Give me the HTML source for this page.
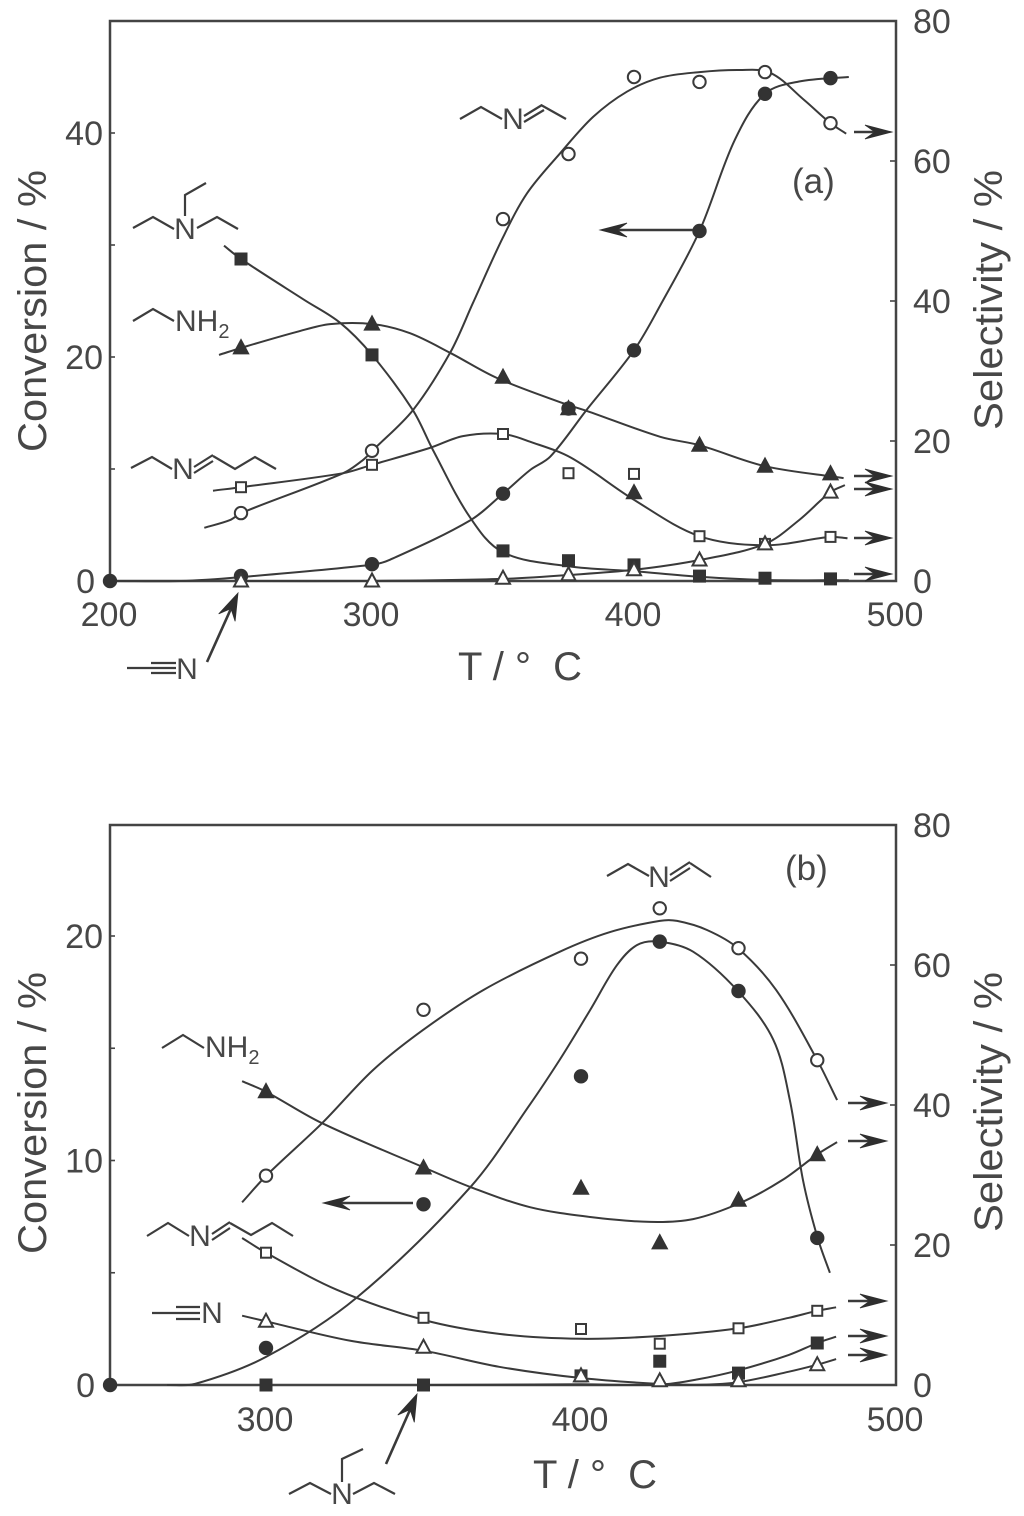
<!DOCTYPE html>
<html lang="en">
<head>
<meta charset="utf-8">
<title>Conversion and selectivity vs temperature</title>
<style>
html,body{margin:0;padding:0;background:#fff}
svg{display:block}
text{font-family:"Liberation Sans",sans-serif;fill:#474747}
.tick{font-size:34px}
.title{font-size:40px}
.chem{font-size:30px}
.chem-line{fill:none;stroke:#3d3d3d;stroke-width:2.2}
.frame{fill:none;stroke:#444;stroke-width:2.5}
</style>
</head>
<body>
<svg id="chart" xmlns="http://www.w3.org/2000/svg" width="1024" height="1516" viewBox="0 0 1024 1516">
  <rect x="0" y="0" width="1024" height="1516" fill="#fff"/>
  <rect class="frame" x="110" y="21" width="786" height="560"/>
  <rect class="frame" x="110" y="825" width="786" height="560"/>
  <g id="layer-a"></g>
  <g id="layer-b"></g>

  <text class="title" transform="translate(46,452) rotate(-90)" textLength="282" lengthAdjust="spacingAndGlyphs">Conversion / %</text>
  <text class="title" transform="translate(1002,430) rotate(-90)" textLength="260" lengthAdjust="spacingAndGlyphs">Selectivity / %</text>
  <text class="title" x="458" y="680" xml:space="preserve" textLength="124" lengthAdjust="spacing">T / °  C</text>
  <text class="title" transform="translate(46,1254) rotate(-90)" textLength="282" lengthAdjust="spacingAndGlyphs">Conversion / %</text>
  <text class="title" transform="translate(1002,1232) rotate(-90)" textLength="260" lengthAdjust="spacingAndGlyphs">Selectivity / %</text>
  <text class="title" x="533" y="1488" xml:space="preserve" textLength="124" lengthAdjust="spacing">T / °  C</text>
  <text x="792" y="193" font-size="35">(a)</text>
  <text x="785" y="880" font-size="35">(b)</text>

  <!-- Panel (a) chemical structure labels -->
  <g>
    <polyline class="chem-line" points="133,228 153,217 174,229"/>
    <polyline class="chem-line" points="197,228 217,217 238,229"/>
    <polyline class="chem-line" points="185,216 185,195 206,183"/>
    <text class="chem" x="185" y="239" text-anchor="middle">N</text>
  </g>
  <g>
    <polyline class="chem-line" points="133,321 153,309 174,321"/>
    <text class="chem" x="175" y="331">NH<tspan font-size="20" dy="7">2</tspan></text>
  </g>
  <g>
    <polyline class="chem-line" points="460,119 481,107 502,119"/>
    <line class="chem-line" x1="524" y1="122" x2="544" y2="110"/>
    <line class="chem-line" x1="524" y1="116" x2="542" y2="105"/>
    <polyline class="chem-line" points="541,105 566,119"/>
    <text class="chem" x="513" y="129" text-anchor="middle">N</text>
  </g>
  <g>
    <polyline class="chem-line" points="131,468 152,457 172,469"/>
    <line class="chem-line" x1="194" y1="473" x2="213" y2="461"/>
    <line class="chem-line" x1="194" y1="467" x2="213" y2="455"/>
    <polyline class="chem-line" points="213,456 235,469 255,457 276,469"/>
    <text class="chem" x="183" y="479" text-anchor="middle">N</text>
  </g>
  <g>
    <line class="chem-line" x1="127" y1="668" x2="176" y2="668"/>
    <line class="chem-line" x1="151" y1="663" x2="176" y2="663"/>
    <line class="chem-line" x1="151" y1="673" x2="176" y2="673"/>
    <text class="chem" x="187" y="679" text-anchor="middle">N</text>
  </g>

  <!-- Panel (b) chemical structure labels -->
  <g>
    <polyline class="chem-line" points="607,876 628,864 649,876"/>
    <line class="chem-line" x1="670" y1="881" x2="690" y2="868"/>
    <line class="chem-line" x1="670" y1="875" x2="690" y2="862"/>
    <polyline class="chem-line" points="690,863 711,877"/>
    <text class="chem" x="659" y="887" text-anchor="middle">N</text>
  </g>
  <g>
    <polyline class="chem-line" points="162,1048 183,1035 204,1048"/>
    <text class="chem" x="205" y="1057">NH<tspan font-size="20" dy="7">2</tspan></text>
  </g>
  <g>
    <polyline class="chem-line" points="147,1236 168,1223 189,1236"/>
    <line class="chem-line" x1="212" y1="1240" x2="230" y2="1228"/>
    <line class="chem-line" x1="212" y1="1234" x2="230" y2="1222"/>
    <polyline class="chem-line" points="230,1223 251,1235 272,1223 293,1236"/>
    <text class="chem" x="200" y="1246" text-anchor="middle">N</text>
  </g>
  <g>
    <line class="chem-line" x1="152" y1="1313" x2="200" y2="1313"/>
    <line class="chem-line" x1="176" y1="1307" x2="200" y2="1307"/>
    <line class="chem-line" x1="176" y1="1319" x2="200" y2="1319"/>
    <text class="chem" x="212" y="1323" text-anchor="middle">N</text>
  </g>
  <g>
    <polyline class="chem-line" points="289,1494 310,1483 331,1494"/>
    <polyline class="chem-line" points="353,1494 374,1483 395,1494"/>
    <polyline class="chem-line" points="342,1482 342,1459 363,1449"/>
    <text class="chem" x="342" y="1504" text-anchor="middle">N</text>
  </g>
  <g id="arrows"></g>
</svg>

<script>
// ---------- Panel (a) axis labels ----------
const aXTicks = [200, 300, 400, 500];
const aLeftTicks = [0, 20, 40];
const aLeftMinor = [10, 30];
const aRightTicks = [0, 20, 40, 60, 80];

// ---------- Panel (a) measured points ----------
const aTemps = [250, 300, 350, 375, 400, 425, 450, 475];
const aConvTemps = [200, 250, 300, 350, 375, 400, 425, 450, 475];
const aConversion = [0, 0.45, 1.5, 7.8, 15.4, 20.6, 31.25, 43.5, 44.9];
const aSelImine = [9.7, 18.6, 51.7, 61, 72, 71.3, 72.7, 65.4];
const aSelAmine3 = [46, 32.3, 4.3, 2.9, 2.3, 0.7, 0.4, 0.3];
const aSelAmine1 = [33.3, 36.7, 29.1, 24.6, 12.6, 19.4, 16.4, 15.3];
const aSelButyl = [13.4, 16.6, 21, 15.4, 15.3, 6.4, 5.3, 6.3];
const aSelNitrile = [0, 0, 0.4, 0.9, 1.6, 3, 5.3, 12.7];

// ---------- Panel (a) fitted curves ----------
const aCurveConvT = [200, 227, 250, 300, 306.9, 337.4, 350, 360.3, 368, 382, 400, 410, 425, 438.5, 450, 463, 482];
const aCurveConvV = [0, 0, 0.35, 1.45, 1.9, 5.4, 7.8, 9.9, 11.1, 15.3, 20.6, 24.6, 31.25, 39.4, 43.5, 44.6, 45];
const aCurveImineT = [236, 245.8, 250, 289, 296.6, 300.4, 315.6, 329.8, 338.5, 350, 359.2, 371.8, 384.4, 397.3, 409.9, 425, 440, 452, 465, 475, 481];
const aCurveImineV = [7.6, 8.7, 9.7, 15.4, 17.3, 18.7, 24.4, 32.6, 39.7, 49.1, 55.4, 61.1, 66.3, 69.9, 71.9, 72.7, 73, 72.6, 68.7, 65.4, 63.9];
const aCurveAmine3T = [243.5, 250, 274.4, 287.8, 300, 315.6, 323.3, 337.4, 350, 375, 400, 425, 450, 482];
const aCurveAmine3V = [47.9, 46, 40.1, 36.9, 32.3, 24.4, 18.7, 9.1, 4.1, 2.1, 1.4, 0.6, 0.15, 0.1];
const aCurveAmine1T = [241.6, 250, 271.4, 284, 300.4, 314.5, 329.8, 347.7, 372.9, 382, 410, 425, 450, 480];
const aCurveAmine1V = [32.3, 33.3, 35.6, 36.7, 36.7, 35.4, 32.6, 29, 25.4, 24.3, 20.6, 19.4, 16.4, 14.7];
const aCurveButylT = [239.3, 250, 289, 300, 322, 334.7, 350, 360.3, 376, 400, 425, 450, 475, 481.5];
const aCurveButylV = [12.9, 13.4, 15.4, 16.6, 19, 20.7, 21, 19.9, 17.6, 11.6, 6.4, 5.1, 6.3, 6.1];
const aCurveNitrileT = [250, 300, 350, 375, 400, 425, 450, 463, 475, 480.5];
const aCurveNitrileV = [0, 0, 0.3, 0.85, 1.6, 3, 5.3, 8.7, 12.7, 13.7];

// ---------- Panel (b) axis labels ----------
const bXTicks = [300, 400, 500];
const bLeftTicks = [0, 10, 20];
const bLeftMinor = [5, 15];
const bRightTicks = [0, 20, 40, 60, 80];

// ---------- Panel (b) measured points ----------
const bTemps = [300, 350, 400, 425, 450, 475];
const bConvTemps = [250.5, 300, 350, 400, 425, 450, 475];
const bConversion = [0, 1.65, 8.05, 13.75, 19.75, 17.55, 6.55];
const bSelImine = [29.9, 53.6, 60.9, 68.1, 62.4, 46.4];
const bSelAmine3 = [0, 0, 1.3, 3.4, 1.7, 6];
const bSelAmine1 = [41.9, 31, 28.1, 20.3, 26.4, 32.9];
const bSelButyl = [18.9, 9.6, 8, 5.9, 8.1, 10.6];
const bSelNitrile = [9.1, 5.4, 1.3, 0.6, 0.6, 2.9];

// ---------- Panel (b) fitted curves ----------
const bCurveConvT = [268.6, 277.5, 300, 328.9, 364.8, 383.8, 393.3, 402.9, 411.4, 417.8, 424.8, 435.6, 449.8, 461, 466.3, 470.5, 475, 479];
const bCurveConvV = [0, 0.05, 1.25, 3.9, 8.8, 12.5, 14.5, 16.7, 18.7, 19.6, 19.75, 19.3, 17.55, 15.4, 12.7, 9.1, 6.6, 5];
const bCurveImineT = [292.4, 300.3, 317.8, 334, 349.8, 368.9, 393.3, 409.2, 425, 430.5, 440, 449.8, 462, 475, 481.3];
const bCurveImineV = [26.1, 30, 37.4, 45, 50.7, 56.4, 61.9, 64.7, 66.3, 66.3, 65, 62.4, 56.4, 46.4, 40.7];
const bCurveAmine3T = [350, 400, 425, 437, 450, 466, 475, 481];
const bCurveAmine3V = [0, 0.1, 0.05, 0.8, 2.1, 4.3, 6, 6.9];
const bCurveAmine1T = [292.4, 300, 317.8, 350.5, 364.8, 383.8, 402.9, 422, 435.6, 450.5, 464, 475.2, 481.3];
const bCurveAmine1V = [43.4, 41.9, 37.4, 31, 28.3, 25.4, 24, 23.3, 23.7, 26, 29.3, 33, 34.7];
const bCurveButylT = [292.4, 300, 322.5, 350, 374, 400, 425, 450, 466, 475, 481];
const bCurveButylV = [21, 18.9, 13.6, 9.3, 7.3, 6.6, 7, 8.1, 9.6, 10.6, 11.1];
const bCurveNitrileT = [292.4, 300, 327, 350, 374, 400, 425, 438, 450, 466, 475, 481];
const bCurveNitrileV = [9.9, 9.1, 6.3, 4.9, 2.6, 1, 0.15, 0.05, 0.4, 1.9, 2.9, 3.7];

// ---------- Axis functions ----------
const INK = '#3a3a3a';
const NS = 'http://www.w3.org/2000/svg';
const aX = t => 110 + (t - 200) * 2.62;
const aLeft = v => 581 - v * 11.2;
const aRight = v => 581 - v * 7;
const bX = t => 266 + (t - 300) * 3.15;
const bLeft = v => 1385 - v * 22.45;
const bRight = v => 1385 - v * 7;

function make(tag, attrs, parent) {
  const el = document.createElementNS(NS, tag);
  for (const k in attrs) el.setAttribute(k, attrs[k]);
  parent.appendChild(el);
  return el;
}

function smoothPath(xs, ys) {
  let d = 'M' + xs[0].toFixed(1) + ' ' + ys[0].toFixed(1);
  for (let i = 0; i < xs.length - 1; i++) {
    const p = Math.max(i - 1, 0), n = Math.min(i + 2, xs.length - 1);
    const dx = xs[i + 1] - xs[i], dy = ys[i + 1] - ys[i];
    const seg = Math.hypot(dx, dy);
    const lenA = Math.hypot(xs[i + 1] - xs[p], ys[i + 1] - ys[p]) || 1;
    const lenB = Math.hypot(xs[n] - xs[i], ys[n] - ys[i]) || 1;
    const c1x = xs[i] + (xs[i + 1] - xs[p]) / lenA * seg / 3;
    const c1y = ys[i] + (ys[i + 1] - ys[p]) / lenA * seg / 3;
    const c2x = xs[i + 1] - (xs[n] - xs[i]) / lenB * seg / 3;
    const c2y = ys[i + 1] - (ys[n] - ys[i]) / lenB * seg / 3;
    d += ' C' + [c1x, c1y, c2x, c2y, xs[i + 1], ys[i + 1]].map(v => v.toFixed(1)).join(' ');
  }
  return d;
}

function drawCurve(parent, name, ts, vs, xFn, yFn) {
  const el = make('path', { d: smoothPath(ts.map(xFn), vs.map(yFn)), fill: 'none', stroke: INK, 'stroke-width': 2 }, parent);
  
  
}

function drawMarkers(parent, name, kind, filled, ts, vs, xFn, yFn) {
  const g = make('g', {}, parent);
  
  
  const style = { fill: filled ? '#333' : '#fff', stroke: filled ? '#333' : INK, 'stroke-width': 2 };
  ts.forEach((t, i) => {
    const x = xFn(t), y = yFn(vs[i]);
    let el;
    if (kind === 'circle') {
      el = make('circle', Object.assign({ cx: x, cy: y, r: 6.2 }, style), g);
    } else if (kind === 'square') {
      const h = filled ? 5.5 : 5;
      el = make('rect', Object.assign({ x: x - h, y: y - h, width: 2 * h, height: 2 * h }, style), g);
    } else {
      const pts = (x) + ',' + (y - 7.5) + ' ' + (x + 7) + ',' + (y + 5.5) + ' ' + (x - 7) + ',' + (y + 5.5);
      el = make('polygon', Object.assign({ points: pts }, style), g);
    }
    
    
  });
}

function drawTickLabel(parent, name, text, x, y, anchor) {
  const el = make('text', { class: 'tick', x: x, y: y, 'text-anchor': anchor }, parent);
  
  
  el.textContent = text;
}

function drawTick(parent, name, x1, y1, x2, y2) {
  const el = make('line', { x1: x1, y1: y1, x2: x2, y2: y2, stroke: '#444', 'stroke-width': 1.6 }, parent);
  
  
}

function drawAxes(parent, prefix, xTicks, leftTicks, leftMinor, rightTicks, xFn, leftFn, rightFn, xLabelY) {
  xTicks.forEach(t => drawTickLabel(parent, prefix + '-x-tick-label', String(t), xFn(t) - 1, xLabelY, 'middle'));
  leftTicks.forEach(v => {
    drawTickLabel(parent, prefix + '-left-tick-label', String(v), v === 0 ? 95 : 103, leftFn(v) + 12, 'end');
    if (v > 0) drawTick(parent, prefix + '-left-tick', 110, leftFn(v), 115, leftFn(v));
  });
  leftMinor.forEach(v => drawTick(parent, prefix + '-left-minor-tick', 110, leftFn(v), 115, leftFn(v)));
  rightTicks.forEach(v => {
    drawTickLabel(parent, prefix + '-right-tick-label', String(v), 913, rightFn(v) + 12, 'start');
    if (v > 0 && v < 80) drawTick(parent, prefix + '-right-tick', 896, rightFn(v), 890, rightFn(v));
  });
}

// ---------- Panel (a) ----------
const layerA = document.getElementById('layer-a');
drawAxes(layerA, 'panel-a', aXTicks, aLeftTicks, aLeftMinor, aRightTicks, aX, aLeft, aRight, 626);
drawCurve(layerA, 'panel-a-conversion-curve', aCurveConvT, aCurveConvV, aX, aLeft);
drawCurve(layerA, 'panel-a-imine-curve', aCurveImineT, aCurveImineV, aX, aRight);
drawCurve(layerA, 'panel-a-triethylamine-curve', aCurveAmine3T, aCurveAmine3V, aX, aRight);
drawCurve(layerA, 'panel-a-ethylamine-curve', aCurveAmine1T, aCurveAmine1V, aX, aRight);
drawCurve(layerA, 'panel-a-butylidene-curve', aCurveButylT, aCurveButylV, aX, aRight);
drawCurve(layerA, 'panel-a-acetonitrile-curve', aCurveNitrileT, aCurveNitrileV, aX, aRight);
drawMarkers(layerA, 'panel-a-conversion-markers', 'circle', true, aConvTemps, aConversion, aX, aLeft);
drawMarkers(layerA, 'panel-a-triethylamine-markers', 'square', true, aTemps, aSelAmine3, aX, aRight);
drawMarkers(layerA, 'panel-a-ethylamine-markers', 'triangle', true, aTemps, aSelAmine1, aX, aRight);
drawMarkers(layerA, 'panel-a-imine-markers', 'circle', false, aTemps, aSelImine, aX, aRight);
drawMarkers(layerA, 'panel-a-butylidene-markers', 'square', false, aTemps, aSelButyl, aX, aRight);
drawMarkers(layerA, 'panel-a-acetonitrile-markers', 'triangle', false, aTemps, aSelNitrile, aX, aRight);

// ---------- Panel (b) ----------
const layerB = document.getElementById('layer-b');
drawAxes(layerB, 'panel-b', bXTicks, bLeftTicks, bLeftMinor, bRightTicks, bX, bLeft, bRight, 1431);
drawCurve(layerB, 'panel-b-conversion-curve', bCurveConvT, bCurveConvV, bX, bLeft);
drawCurve(layerB, 'panel-b-imine-curve', bCurveImineT, bCurveImineV, bX, bRight);
drawCurve(layerB, 'panel-b-triethylamine-curve', bCurveAmine3T, bCurveAmine3V, bX, bRight);
drawCurve(layerB, 'panel-b-ethylamine-curve', bCurveAmine1T, bCurveAmine1V, bX, bRight);
drawCurve(layerB, 'panel-b-butylidene-curve', bCurveButylT, bCurveButylV, bX, bRight);
drawCurve(layerB, 'panel-b-acetonitrile-curve', bCurveNitrileT, bCurveNitrileV, bX, bRight);
drawMarkers(layerB, 'panel-b-conversion-markers', 'circle', true, bConvTemps, bConversion, bX, bLeft);
drawMarkers(layerB, 'panel-b-triethylamine-markers', 'square', true, bTemps, bSelAmine3, bX, bRight);
drawMarkers(layerB, 'panel-b-ethylamine-markers', 'triangle', true, bTemps, bSelAmine1, bX, bRight);
drawMarkers(layerB, 'panel-b-imine-markers', 'circle', false, bTemps, bSelImine, bX, bRight);
drawMarkers(layerB, 'panel-b-butylidene-markers', 'square', false, bTemps, bSelButyl, bX, bRight);
drawMarkers(layerB, 'panel-b-acetonitrile-markers', 'triangle', false, bTemps, bSelNitrile, bX, bRight);

// ---------- Annotation arrows (from-x, from-y, to-x, to-y) ----------
function drawArrow(name, x1, y1, x2, y2, half) {
  const parent = document.getElementById('arrows');
  const g = make('g', {}, parent);
  
  
  const a = Math.atan2(y2 - y1, x2 - x1), c = Math.cos(a), s = Math.sin(a);
  const pt = (u, v) => (x2 + u * c - v * s).toFixed(1) + ',' + (y2 + u * s + v * c).toFixed(1);
  make('line', { x1: x1, y1: y1, x2: x2 - 12 * c, y2: y2 - 12 * s, stroke: INK, 'stroke-width': 2.6 }, g);
  make('polygon', { points: [pt(0, 0), pt(-27, -half), pt(-17, 0), pt(-27, half)].join(' '), fill: '#2e2e2e', stroke: '#2e2e2e', 'stroke-width': 0.8 }, g);
}
drawArrow('panel-a-imine-selectivity-arrow', 854, 132, 892, 132, 7);
drawArrow('panel-a-ethylamine-selectivity-arrow', 854, 476, 892, 476, 7);
drawArrow('panel-a-acetonitrile-selectivity-arrow', 854, 489, 892, 489, 7);
drawArrow('panel-a-butylidene-selectivity-arrow', 854, 538, 892, 538, 7);
drawArrow('panel-a-triethylamine-selectivity-arrow', 854, 574, 892, 574, 7);
drawArrow('panel-a-conversion-arrow', 693, 230, 600, 230, 7);
drawArrow('panel-a-acetonitrile-pointer', 207, 662, 238, 593, 9);
drawArrow('panel-b-imine-selectivity-arrow', 848, 1103, 887, 1103, 7);
drawArrow('panel-b-ethylamine-selectivity-arrow', 848, 1141, 887, 1141, 7);
drawArrow('panel-b-butylidene-selectivity-arrow', 848, 1301, 887, 1301, 7);
drawArrow('panel-b-triethylamine-selectivity-arrow', 848, 1336, 887, 1336, 7);
drawArrow('panel-b-acetonitrile-selectivity-arrow', 848, 1355, 887, 1355, 7);
drawArrow('panel-b-conversion-arrow', 413, 1203, 323, 1203, 7);
drawArrow('panel-b-triethylamine-pointer', 386, 1464, 417, 1394, 9);
</script>
</body>
</html>
